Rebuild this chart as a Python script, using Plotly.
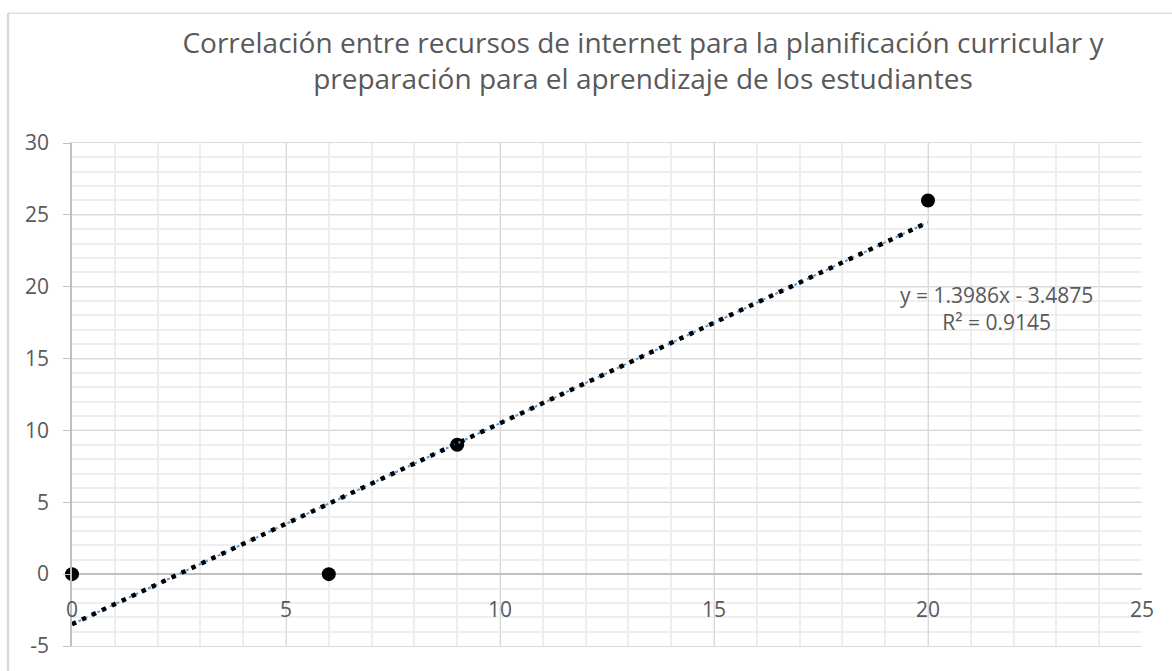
import numpy as np
import plotly.graph_objects as go

# Observed pairs: internet resources for curriculum planning (x) vs. student learning preparation (y)
x_vals = [0, 6, 9, 20]
y_vals = [0, 0, 9, 26]

x_ticks = [0, 5, 10, 15, 20, 25]
y_ticks = [-5, 0, 5, 10, 15, 20, 25, 30]

title_text = ("Correlación entre recursos de internet para la planificación curricular y<br>"
              "preparación para el aprendizaje de los estudiantes")

# Least-squares linear trend
slope, intercept = np.polyfit(x_vals, y_vals, 1)
slope = round(slope, 4)
intercept = round(intercept, 4)
pred = np.polyval([slope, intercept], x_vals)
ss_res = np.sum((np.array(y_vals) - pred) ** 2)
ss_tot = np.sum((np.array(y_vals) - np.mean(y_vals)) ** 2)
r2 = 1 - ss_res / ss_tot

trend_x = [min(x_vals), max(x_vals)]
trend_y = [slope * v + intercept for v in trend_x]

GREY_TXT = "#595959"
FONT = "Open Sans"

fig = go.Figure()

fig.add_trace(go.Scatter(
    x=x_vals, y=y_vals, mode="markers",
    marker=dict(color="black", size=14),
    cliponaxis=False, showlegend=False, hoverinfo="x+y",
))
fig.add_trace(go.Scatter(
    x=trend_x, y=trend_y, mode="lines",
    line=dict(color="#5b9bd5", width=2, dash="3px,4px"),
    showlegend=False, hoverinfo="skip",
))
fig.add_trace(go.Scatter(
    x=trend_x, y=trend_y, mode="lines",
    line=dict(color="black", width=4.5, dash="4.5px,6.5px"),
    showlegend=False, hoverinfo="skip",
))

sign = "-" if intercept < 0 else "+"
eq_text = f"y = {slope:.4f}x {sign} {abs(intercept):.4f}<br>R² = {r2:.4f}"

annotations = [
    dict(x=21.6, y=18.5, xref="x", yref="y", text=eq_text, showarrow=False,
         align="center", font=dict(family=FONT, size=21, color=GREY_TXT)),
]
# x tick labels sit below the horizontal axis drawn at y = 0
for t in x_ticks:
    annotations.append(dict(
        x=t, y=0, xref="x", yref="y", text=str(t), showarrow=False,
        yshift=-35, font=dict(family=FONT, size=21, color=GREY_TXT),
    ))

fig.update_layout(
    width=1172, height=671,
    margin=dict(l=72, r=30, t=143, b=21),
    paper_bgcolor="white", plot_bgcolor="white",
    title=dict(text=title_text, x=0.5336, xref="paper", xanchor="center",
               y=1 - 53 / 671, yref="container", yanchor="middle",
               font=dict(family=FONT, size=28, color=GREY_TXT)),
    annotations=annotations,
    shapes=[
        dict(type="line", xref="paper", yref="paper",
             x0=(8 - 72) / 1070, x1=(8 - 72) / 1070,
             y0=(650 - 12) / 507, y1=-0.2,
             line=dict(color="#d9d9d9", width=2.5)),
        dict(type="line", xref="paper", yref="paper",
             x0=(8 - 72) / 1070, x1=1.1,
             y0=(650 - 12) / 507, y1=(650 - 12) / 507,
             line=dict(color="#d9d9d9", width=1.2)),
    ],
)

fig.update_xaxes(
    range=[0, 25], tickvals=x_ticks, showticklabels=False,
    showgrid=True, gridcolor="#d9d9d9", gridwidth=1.3,
    minor=dict(dtick=1, showgrid=True, gridcolor="#eeeeee", gridwidth=1.5),
    showline=True, linecolor="#d9d9d9", linewidth=1.3, mirror=True,
    zeroline=False, fixedrange=True,
)
fig.update_yaxes(
    range=[-5, 30], tickvals=y_ticks, ticktext=[str(t) for t in y_ticks],
    tickfont=dict(family=FONT, size=21, color=GREY_TXT),
    ticks="outside", ticklen=7, tickcolor="#bfbfbf", tickwidth=1.3,
    ticklabelstandoff=10,
    showgrid=True, gridcolor="#d9d9d9", gridwidth=1.3,
    minor=dict(dtick=1, showgrid=True, gridcolor="#eeeeee", gridwidth=1.5),
    showline=True, linecolor="#bfbfbf", linewidth=1.5,
    zeroline=True, zerolinecolor="#bfbfbf", zerolinewidth=1.5,
    fixedrange=True,
)

fig.write_html("out.html")
